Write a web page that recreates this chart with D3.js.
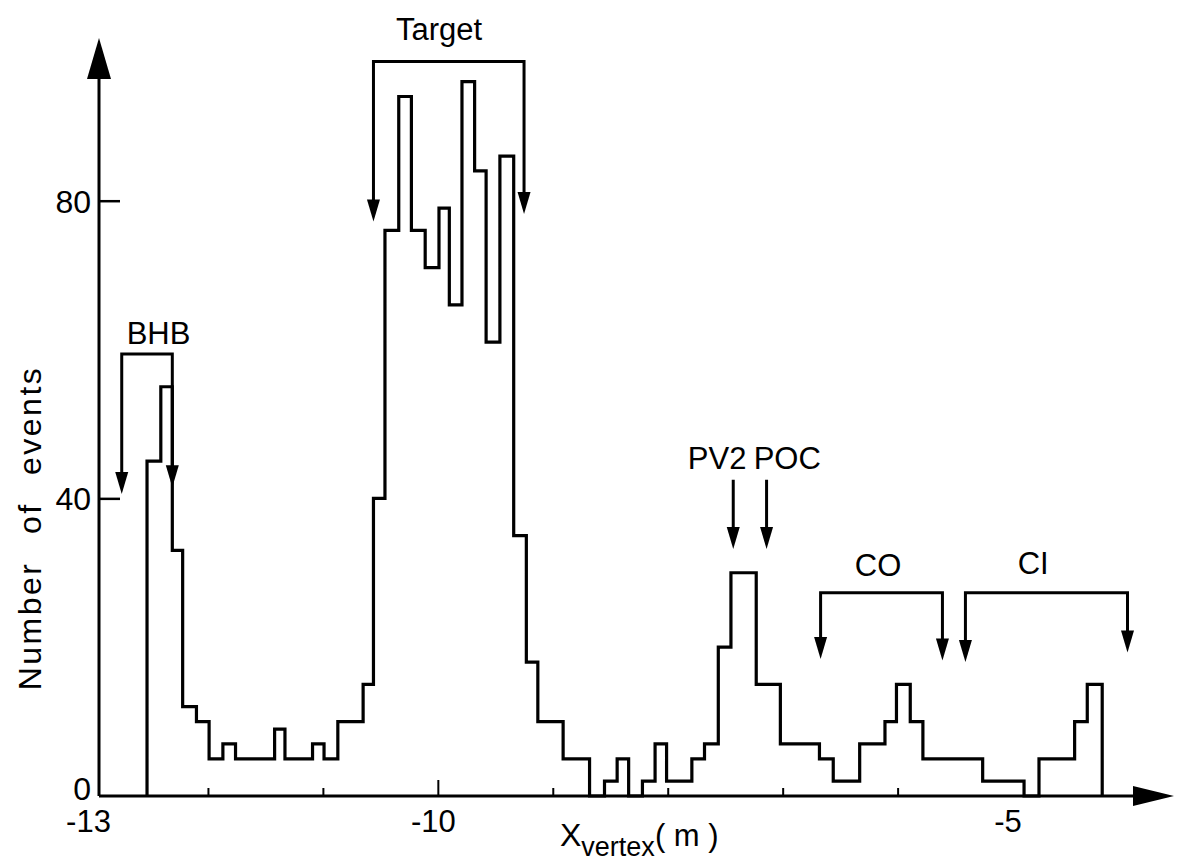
<!DOCTYPE html>
<html>
<head>
<meta charset="utf-8">
<script src="https://cdn.jsdelivr.net/npm/d3@7"></script>
<style>
	body { margin: 0; background: #fff; }
	svg { display: block; }
	text { font-family: 'Liberation Sans', Arial, sans-serif; fill: #000; }
</style>
</head>
<body>
<script>
var w = 1179,
	h = 866

// histogram: left edge of each step (m) and the number of events in it
var edges = [-12.53, -12.41, -12.31, -12.22, -12.10, -11.99, -11.87, -11.76, -11.42, -11.33,
	-11.09, -10.99, -10.87, -10.65, -10.56, -10.46, -10.34, -10.23, -10.11, -9.99,
	-9.90, -9.79, -9.68, -9.58, -9.46, -9.34, -9.23, -9.13, -8.91, -8.68,
	-8.55, -8.44, -8.34, -8.22, -8.11, -8.01, -7.79, -7.68, -7.56, -7.45,
	-7.23, -7.02, -6.68, -6.56, -6.33, -6.11, -6.01, -5.89, -5.78, -5.26,
	-4.90, -4.77, -4.46, -4.35, -4.22]
var counts = [45, 55, 33, 12, 10, 5, 7, 5, 9, 5,
	7, 5, 10, 15, 40, 76, 94, 76, 71, 79,
	66, 96, 84, 61, 86, 35, 18, 10, 5, 0,
	2, 5, 0, 2, 7, 2, 5, 7, 20, 30,
	15, 7, 5, 2, 7, 10, 15, 10, 5, 2,
	0, 5, 10, 15]

var xTickLabels = [-13, -10, -5]
var xMinorTicks = [-12, -11, -9, -8, -7, -6]
var yTickLabels = [0, 40, 80]

// bracketed regions (positions in m, heights in events)
var bracketNames = ['BHB', 'Target', 'CO', 'CI']
var bracketLeft = [-12.75, -10.56, -6.67, -5.41]
var bracketRight = [-12.31, -9.25, -5.61, -4.00]
var bracketTop = [59.4, 98.7, 27.3, 27.3]
var bracketTipLeft = [40.6, 77.2, 18.4, 18.0]
var bracketTipRight = [41.5, 78.2, 18.2, 19.3]
var bracketLabelX = [-12.43, -9.99, -6.17, -4.82]
var bracketLabelY = [60.7, 101.6, 29.6, 29.9]

// single arrows
var arrowNames = ['PV2', 'POC']
var arrowX = [-7.43, -7.14]
var arrowLabelX = [-7.57, -6.96]
var arrowTop = 42.5,
	arrowTip = 33.2,
	arrowLabelY = 44

var x = d3.scaleLinear().domain([-13, -4]).range([93, 1127.5])
var y = d3.scaleLinear().domain([0, 80]).range([796, 200.7])

var axisX = 99

var svg = d3.select('body').append('svg')
	.attr('width', w)
	.attr('height', h)

svg.append('rect').attr('width', w).attr('height', h).style('fill', '#fff')

function head(px, py, dir, len, half) {
	// filled triangle, tip at (px, py)
	if (dir == 'down') return 'M' + px + ',' + py + 'L' + (px - half) + ',' + (py - len) + 'L' + (px + half) + ',' + (py - len) + 'Z'
	if (dir == 'up') return 'M' + px + ',' + py + 'L' + (px - half) + ',' + (py + len) + 'L' + (px + half) + ',' + (py + len) + 'Z'
	return 'M' + px + ',' + py + 'L' + (px - len) + ',' + (py - half) + 'L' + (px - len) + ',' + (py + half) + 'Z'
}

// axes lines + arrows
svg.append('line')
	.attr('x1', axisX).attr('x2', 1133)
	.attr('y1', y(0)).attr('y2', y(0))
	.style('stroke', '#000').style('stroke-width', 3)
svg.append('path').attr('d', head(1174, y(0), 'right', 41, 10)).style('fill', '#000')
svg.append('line')
	.attr('x1', axisX).attr('x2', axisX)
	.attr('y1', y(0)).attr('y2', 79)
	.style('stroke', '#000').style('stroke-width', 3)
svg.append('path').attr('d', head(axisX, 38, 'up', 41, 12)).style('fill', '#000')

// x ticks
var gx = svg.append('g').attr('transform', 'translate(0,' + y(0) + ')')
gx.call(d3.axisBottom(x).tickValues(xMinorTicks).tickSize(-8).tickFormat(''))
gx.append('g').call(d3.axisBottom(x).tickValues([-10]).tickSize(-16).tickFormat(''))
gx.selectAll('.domain').remove()
gx.selectAll('line').style('stroke', '#000').style('stroke-width', 2)

var gxl = svg.append('g').attr('transform', 'translate(-5,' + y(0) + ')')
	.call(d3.axisBottom(x).tickValues(xTickLabels).tickSize(0).tickPadding(14).tickFormat(function(d) { return d }))
gxl.select('.domain').remove()
gxl.selectAll('text').style('font-size', '31px').attr('font-family', null)

// y ticks
var gy = svg.append('g').attr('transform', 'translate(' + axisX + ',0)')
	.call(d3.axisRight(y).tickValues([40, 80]).tickSize(21).tickFormat(''))
gy.select('.domain').remove()
gy.selectAll('line').style('stroke', '#000').style('stroke-width', 2.5)

var gyl = svg.append('g').attr('transform', 'translate(' + (axisX - 8) + ',0)')
	.call(d3.axisLeft(y).tickValues(yTickLabels).tickSize(0).tickPadding(0))
gyl.select('.domain').remove()
gyl.selectAll('text').style('font-size', '32px').attr('font-family', null)
	.attr('dy', function(d) { return d == 0 ? '0.1em' : '0.36em' })

// histogram
var pts = [[edges[0], 0]]
counts.forEach(function(c, i) { pts.push([edges[i], c]) })
pts.push([edges[edges.length - 1], 0])

svg.append('path')
	.datum(pts)
	.attr('d', d3.line()
		.x(function(d) { return x(d[0]) })
		.y(function(d) { return y(d[1]) })
		.curve(d3.curveStepAfter))
	.style('fill', 'none')
	.style('stroke', '#000')
	.style('stroke-width', 3.2)
	.style('stroke-linejoin', 'miter')

// brackets
var br = svg.selectAll('g.bracket')
	.data(bracketNames)
	.enter().append('g').attr('class', 'bracket')

br.append('path')
	.attr('d', function(d, i) {
		return 'M' + x(bracketLeft[i]) + ',' + (y(bracketTipLeft[i]) - 12) +
			'V' + y(bracketTop[i]) +
			'H' + x(bracketRight[i]) +
			'V' + (y(bracketTipRight[i]) - 12)
	})
	.style('fill', 'none').style('stroke', '#000').style('stroke-width', 3)
br.append('path')
	.attr('d', function(d, i) { return head(x(bracketLeft[i]), y(bracketTipLeft[i]), 'down', 22, 6.5) })
	.style('fill', '#000')
br.append('path')
	.attr('d', function(d, i) { return head(x(bracketRight[i]), y(bracketTipRight[i]), 'down', 22, 6.5) })
	.style('fill', '#000')
br.append('text')
	.attr('x', function(d, i) { return x(bracketLabelX[i]) })
	.attr('y', function(d, i) { return y(bracketLabelY[i]) })
	.attr('text-anchor', 'middle')
	.style('font-size', '31px')
	.text(function(d) { return d })

// PV2 / POC arrows
var ar = svg.selectAll('g.arrow')
	.data(arrowNames)
	.enter().append('g').attr('class', 'arrow')
ar.append('line')
	.attr('x1', function(d, i) { return x(arrowX[i]) })
	.attr('x2', function(d, i) { return x(arrowX[i]) })
	.attr('y1', y(arrowTop))
	.attr('y2', y(arrowTip) - 12)
	.style('stroke', '#000').style('stroke-width', 3)
ar.append('path')
	.attr('d', function(d, i) { return head(x(arrowX[i]), y(arrowTip), 'down', 22, 6.5) })
	.style('fill', '#000')
ar.append('text')
	.attr('x', function(d, i) { return x(arrowLabelX[i]) })
	.attr('y', y(arrowLabelY))
	.attr('text-anchor', 'middle')
	.style('font-size', '31px')
	.text(function(d) { return d })

// axis titles
svg.append('text')
	.attr('transform', 'translate(41,528) rotate(-90)')
	.attr('text-anchor', 'middle')
	.style('font-size', '32px')
	.style('letter-spacing', '2.5px')
	.style('word-spacing', '16px')
	.text('Number of events')

var xt = svg.append('text')
	.attr('x', 560)
	.attr('y', 846)
	.style('font-size', '32px')
xt.append('tspan').text('X')
xt.append('tspan').attr('dy', 10).style('font-size', '27px').text('vertex')
xt.append('tspan').attr('dy', -10).style('font-size', '31px').text('( m )')
</script>
</body>
</html>
